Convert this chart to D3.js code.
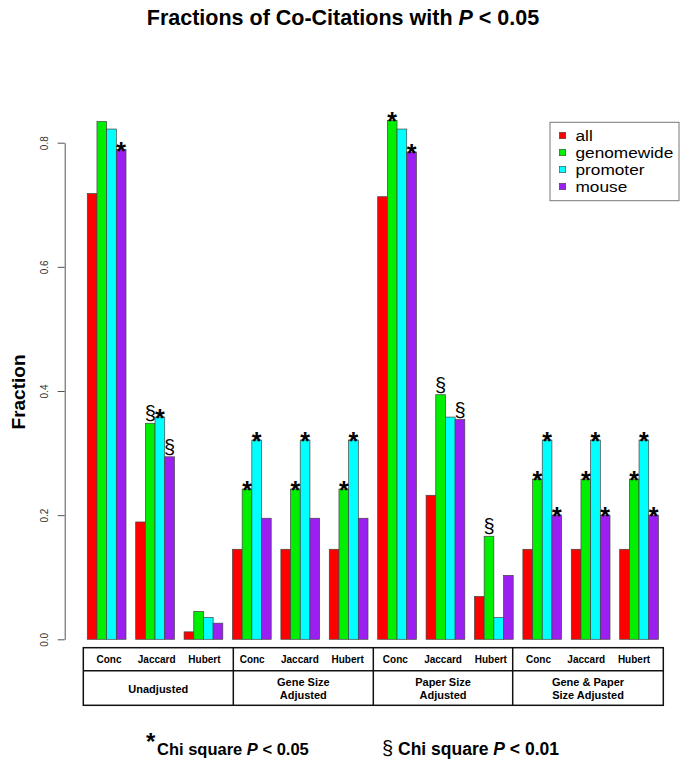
<!DOCTYPE html>
<html>
<head>
<meta charset="utf-8">
<script src="https://cdn.jsdelivr.net/npm/d3@7"></script>
<style>
  body { margin: 0; background: #fff; }
  text { font-family: "Liberation Sans", Arial, sans-serif; }
</style>
</head>
<body>
<svg id="chart" width="685" height="764"></svg>
<script>
var series = ["all", "genomewide", "promoter", "mouse"]
var colors = ["#ff0000", "#00ee00", "#00ffff", "#9b1ff0"]
var methods = ["Conc", "Jaccard", "Hubert", "Conc", "Jaccard", "Hubert",
               "Conc", "Jaccard", "Hubert", "Conc", "Jaccard", "Hubert"]
var sections = [["Unadjusted"], ["Gene Size", "Adjusted"],
                ["Paper Size", "Adjusted"], ["Gene & Paper", "Size Adjusted"]]

var allVals    = [0.718, 0.189, 0.012, 0.145, 0.145, 0.145, 0.713, 0.232, 0.069, 0.145, 0.145, 0.145]
var genomeVals = [0.834, 0.348, 0.045, 0.242, 0.242, 0.242, 0.836, 0.394, 0.166, 0.258, 0.258, 0.258]
var promVals   = [0.822, 0.358, 0.035, 0.321, 0.321, 0.321, 0.822, 0.358, 0.035, 0.321, 0.321, 0.321]
var mouseVals  = [0.789, 0.294, 0.026, 0.195, 0.195, 0.195, 0.785, 0.354, 0.103, 0.200, 0.200, 0.200]

// significance marks: "*" chi square P<0.05, "§" chi square P<0.01
var allMarks    = ["", "", "", "", "", "", "", "", "", "", "", ""]
var genomeMarks = ["", "§", "", "*", "*", "*", "*", "§", "§", "*", "*", "*"]
var promMarks   = ["", "*", "", "*", "*", "*", "", "", "", "*", "*", "*"]
var mouseMarks  = ["*", "§", "", "", "", "", "*", "§", "", "*", "*", "*"]

var yTicks = [0, 0.2, 0.4, 0.6, 0.8]

var values = [allVals, genomeVals, promVals, mouseVals]
var marks = [allMarks, genomeMarks, promMarks, mouseMarks]

var bars = []
for (g = 0; g < methods.length; g++) {
  for (s = 0; s < series.length; s++) {
    bars.push({group: g, s: s, value: values[s][g], mark: marks[s][g]})
  }
}

var svg = d3.select("#chart")

// 4 bars + 1 space per group, like R barplot(beside=TRUE)
var x = d3.scaleLinear().domain([0, 60]).range([77.6, 658.4])
var y = d3.scaleLinear().domain([0, 0.8]).range([639.3, 142.7])
var barW = x(1) - x(0)

svg.append("text")
  .attr("x", 343).attr("y", 24.5)
  .attr("text-anchor", "middle")
  .style("font-size", "21.5px").style("font-weight", "bold")
  .html("Fractions of Co-Citations with <tspan font-style='italic'>P</tspan> &lt; 0.05")

// y axis
var yAxis = svg.append("g")
  .attr("transform", "translate(64.7,0)")
  .call(d3.axisLeft(y).tickValues(yTicks).tickSize(7).tickSizeOuter(0)
        .tickFormat(d3.format(".1f")))
yAxis.select(".domain").attr("stroke", "#555")
yAxis.selectAll(".tick line").attr("stroke", "#555")
yAxis.selectAll(".tick text")
  .attr("x", 0).attr("y", 0).attr("dy", 0)
  .attr("transform", "translate(-17,0) rotate(-90)")
  .attr("text-anchor", "middle")
  .attr("fill", "#333")
  .style("font-size", "10px").style("font-family", "Liberation Sans, Arial")

svg.append("text")
  .attr("transform", "translate(25,392) rotate(-90)")
  .attr("text-anchor", "middle")
  .style("font-size", "19px").style("font-weight", "bold")
  .text("Fraction")

// bars
svg.append("g").selectAll("rect")
  .data(bars).enter().append("rect")
  .attr("x", function(d) { return x(1 + 5 * d.group + d.s); })
  .attr("y", function(d) { return y(d.value); })
  .attr("width", barW)
  .attr("height", function(d) { return y(0) - y(d.value); })
  .attr("fill", function(d) { return colors[d.s]; })
  .attr("stroke", "#444").attr("stroke-width", 0.7)

// marks above bars
var mk = svg.append("g").selectAll("text")
  .data(bars.filter(function(d) { return d.mark != ""; })).enter().append("text")
  .attr("x", function(d) { return x(1 + 5 * d.group + d.s + 0.5); })
  .attr("text-anchor", "middle")
  .text(function(d) { return d.mark; })
mk.filter(function(d) { return d.mark == "*"; })
  .attr("y", function(d) { return y(d.value) + 10; })
  .style("font-size", "25px").style("font-weight", "bold")
mk.filter(function(d) { return d.mark == "§"; })
  .attr("y", function(d) { return y(d.value) - 3; })
  .style("font-size", "20px")

// legend
var leg = svg.append("g")
leg.append("rect")
  .attr("x", 550).attr("y", 122.3).attr("width", 129).attr("height", 78.4)
  .attr("fill", "#fff").attr("stroke", "#777").attr("stroke-width", 1)
series.forEach(function(name, i) {
  leg.append("rect")
    .attr("x", 559.3).attr("y", 132.3 + 17 * i).attr("width", 6.4).attr("height", 6.4)
    .attr("fill", colors[i]).attr("stroke", "#444").attr("stroke-width", 0.6)
  leg.append("text")
    .attr("transform", "translate(575.5," + (140.8 + 17 * i) + ") scale(1.15,1)")
    .style("font-size", "15px")
    .text(name)
})

// table under the bars
var tTop = 647.7, tMid = 670.7, tBot = 705.3
var secEdges = [83.3, 233.3, 373.3, 512.7, 663.3]
var lab = d3.scaleLinear().domain([0, 11]).range([109, 634])
var tbl = svg.append("g")
tbl.append("rect")
  .attr("x", secEdges[0]).attr("y", tTop)
  .attr("width", secEdges[4] - secEdges[0]).attr("height", tBot - tTop)
  .attr("fill", "none").attr("stroke", "#111").attr("stroke-width", 1.5)
tbl.append("line")
  .attr("x1", secEdges[0]).attr("x2", secEdges[4]).attr("y1", tMid).attr("y2", tMid)
  .attr("stroke", "#111").attr("stroke-width", 1.5)
tbl.selectAll("line.div")
  .data(secEdges.slice(1, 4)).enter().append("line")
  .attr("x1", function(d) { return d; }).attr("x2", function(d) { return d; })
  .attr("y1", tTop).attr("y2", tBot)
  .attr("stroke", "#111").attr("stroke-width", 1.5)
tbl.selectAll("text.m")
  .data(methods).enter().append("text")
  .attr("x", function(d, i) { return lab(i); })
  .attr("y", 662.8)
  .attr("text-anchor", "middle")
  .style("font-size", "10px").style("font-weight", "bold")
  .text(function(d) { return d; })
sections.forEach(function(lines, i) {
  var cx = (secEdges[i] + secEdges[i + 1]) / 2
  var y0 = lines.length == 1 ? 692.5 : 686
  lines.forEach(function(t, j) {
    tbl.append("text")
      .attr("x", cx).attr("y", y0 + 12.7 * j)
      .attr("text-anchor", "middle")
      .style("font-size", "11px").style("font-weight", "bold")
      .text(t)
  })
})

// footnote
svg.append("text")
  .attr("x", 146).attr("y", 750)
  .style("font-size", "24px").style("font-weight", "bold")
  .text("*")
svg.append("text")
  .attr("x", 157).attr("y", 755)
  .style("font-size", "16.5px").style("font-weight", "bold")
  .html("Chi square <tspan font-style='italic'>P</tspan> &lt; 0.05")
svg.append("text")
  .attr("x", 382).attr("y", 755)
  .style("font-size", "17.5px").style("font-weight", "bold")
  .html("<tspan font-weight='normal' font-size='20px'>§</tspan> Chi square <tspan font-style='italic'>P</tspan> &lt; 0.01")
</script>
</body>
</html>
